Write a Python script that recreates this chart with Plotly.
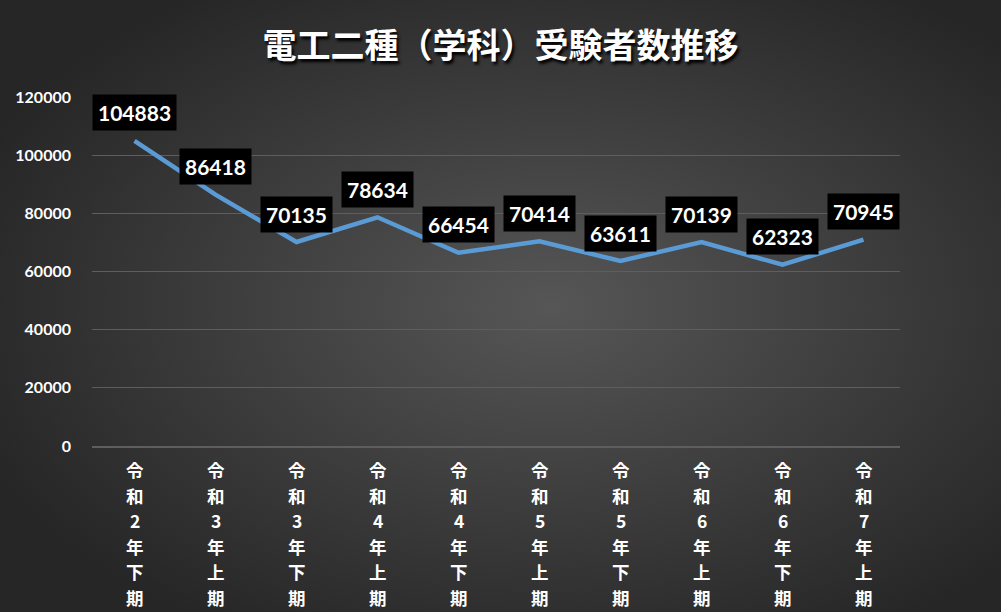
import base64
import plotly.graph_objects as go

categories = ["令和2年下期", "令和3年上期", "令和3年下期", "令和4年上期", "令和4年下期",
              "令和5年上期", "令和5年下期", "令和6年上期", "令和6年下期", "令和7年上期"]
values = [104883, 86418, 70135, 78634, 66454, 70414, 63611, 70139, 62323, 70945]
y_ticks = [0, 20000, 40000, 60000, 80000, 100000, 120000]
title_text = "電工二種（学科）受験者数推移"

W, H = 1001, 612
ml, mr, mt, mb = 92, 101, 97, 166
pw, ph = W - ml - mr, H - mt - mb

svg = f'''<svg xmlns="http://www.w3.org/2000/svg" width="{W}" height="{H}" viewBox="0 0 {W} {H}" preserveAspectRatio="none">
<defs><radialGradient id="g" cx="0.55" cy="0.5" r="0.62" gradientUnits="objectBoundingBox">
<stop offset="0" stop-color="#565656"/><stop offset="1" stop-color="#262626"/></radialGradient></defs>
<rect width="{W}" height="{H}" fill="url(#g)"/></svg>'''
bg_src = "data:image/svg+xml;base64," + base64.b64encode(svg.encode()).decode()

fig = go.Figure()
fig.add_trace(go.Scatter(
    x=categories, y=values, mode="lines",
    line=dict(color="#5B9BD5", width=4.5),
    hoverinfo="skip", showlegend=False,
))

# data labels
for c, v in zip(categories, values):
    fig.add_annotation(
        x=c, y=v, text=f"<b>{v}</b>", showarrow=False, yshift=28,
        bgcolor="black", borderpad=5,
        font=dict(family="Lato, 'Open Sans', sans-serif", size=21, color="white"),
    )

# vertical category labels (one character per line)
pitch = 25.5
for c in categories:
    for i, ch in enumerate(c):
        fig.add_annotation(
            x=c, xref="x", y=0, yref="paper", yanchor="top",
            yshift=-(9 + pitch * i), text=f"<b>{ch}</b>", showarrow=False,
            font=dict(family="Noto Sans CJK JP", size=17.5, color="white"),
        )

fig.add_layout_image(dict(
    source=bg_src, xref="paper", yref="paper",
    x=-ml / pw, y=1 + mt / ph, sizex=W / pw, sizey=H / ph,
    xanchor="left", yanchor="top", sizing="stretch", layer="below",
))

fig.update_layout(
    width=W, height=H,
    margin=dict(l=ml, r=mr, t=mt, b=mb),
    paper_bgcolor="#2e2e2e", plot_bgcolor="rgba(0,0,0,0)",
    title=dict(
        text=f"<b>{title_text}</b>", x=0.5, xanchor="center", y=0.925, yanchor="middle",
        font=dict(family="Noto Sans CJK JP", size=34, color="white",
                  shadow="2px 3px 3px #000000"),
    ),
    xaxis=dict(
        type="category", categoryarray=categories,
        showgrid=False, showline=True, linecolor="#5e5e5e", linewidth=1.5,
        ticks="", showticklabels=False, fixedrange=True,
    ),
    yaxis=dict(
        range=[0, 120000], tickmode="array", tickvals=y_ticks,
        ticktext=[str(t) for t in y_ticks],
        showgrid=True, gridcolor="#5e5e5e", gridwidth=1.2, zeroline=False,
        ticks="", ticklabelstandoff=20,
        tickfont=dict(family="Lato, 'Open Sans', sans-serif", size=16, color="white", weight="bold"),
        fixedrange=True,
    ),
)

fig.write_html("out.html", config={"displayModeBar": False},
               post_script="document.body.style.margin='0';")
